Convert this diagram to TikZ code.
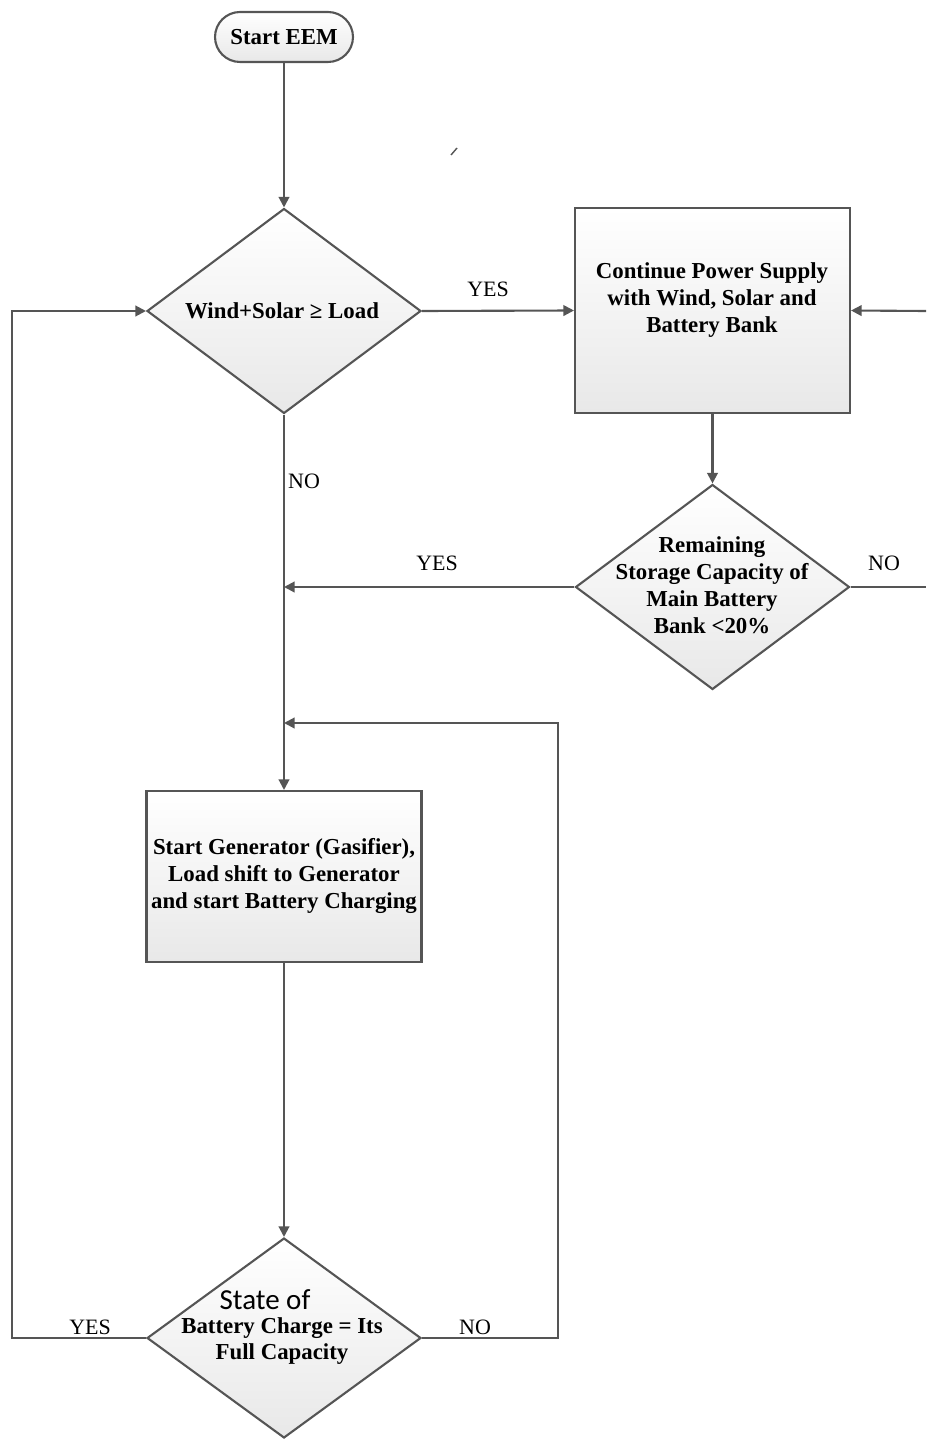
\documentclass[tikz,border=0pt]{standalone}
\usepackage{fontspec}
\setmainfont{Liberation Serif}
\newfontfamily\calibri{Carlito}
\usetikzlibrary{shapes.geometric,arrows.meta}

\definecolor{linegray}{RGB}{85,85,85}

\tikzset{
    line/.style={draw=linegray, line width=1.2pt},
    arrow/.style={line, -{Triangle[length=6pt,width=6pt]}},
    shade/.style={top color=white, bottom color=black!9},
    process/.style={line, shade, rectangle, minimum width=5.5cm, minimum height=4.1cm, inner sep=0pt},
    decision/.style={line, shade, diamond, aspect=1.34, minimum width=5.48cm, minimum height=4.1cm, inner sep=0pt},
    term/.style={line, shade, rectangle, rounded corners=0.5cm, minimum width=2.76cm, minimum height=1cm, font=\fontsize{13}{15.3}\selectfont\bfseries},
    txt/.style={align=center, inner sep=0pt, font=\fontsize{13}{15.3}\selectfont\bfseries},
    answer/.style={font=\fontsize{12.5}{15}\selectfont}
}

\begin{document}
\begin{tikzpicture}[x=0.02cm, y=-0.02cm]
    \useasboundingbox (0,0) rectangle (926,1439);

    % Start
    \node[term] (start) at (284,37) {Start EEM};

    % First check
    \node[decision] (wind) at (284,311) {};
    \node[txt] (windtxt) at (282,311) {Wind+Solar ≥ Load};

    % Supply from renewables
    \node[process] (cont) at (712.5,310.5) {};
    \node[txt] (conttxt) at (712,300) {Continue Power Supply\\with Wind, Solar and\\Battery Bank};

    % Battery check
    \node[decision] (storage) at (712.5,587) {};
    \node[txt] (storagetxt) at (712,585) {Remaining\\Storage Capacity of\\Main Battery\\Bank <20\%};

    % Generator
    \node[process, minimum height=3.42cm] (gen) at (284,876.5) {};
    \node[txt] (gentxt) at (284,876) {Start Generator (Gasifier),\\Load shift to Generator\\and start Battery Charging};

    % Full charge check
    \node[decision, minimum height=4cm] (full) at (284,1338) {};
    \node[font=\calibri\fontsize{16.5}{18}\selectfont, inner sep=0pt] (fulltop) at (265,1300) {State of};
    \node[txt] (fulltxt) at (282,1341) {Battery Charge = Its\\Full Capacity};

    % Junctions and loose ends
    \coordinate (yesjoin) at (284,587);
    \coordinate (nojoin) at (284,723);
    \coordinate (noend) at (926,587);
    \coordinate (backin) at (926,311);
    \coordinate (loopright) at (558,723);
    \coordinate (loopleft) at (12,311);

    % Connectors
    \draw[arrow] (start) -- (wind);
    \draw[arrow] (wind.east) -- (cont.west);
    \draw[arrow] (cont) -- (storage);
    \draw[arrow] (backin) -- (cont.east);
    \draw[line] (storage.east) -- (noend);
    \draw[arrow] (storage.west) -- (yesjoin);
    \draw[arrow] (wind.south) -- (gen.north);
    \draw[arrow] (gen) -- (full);
    \draw[arrow] (full.east) -| (loopright) -- (nojoin);
    \draw[arrow] (full.west) -| (loopleft) -- (wind.west);

    % Answers
    \node[answer] (yes1) at (488,289) {YES};
    \node[answer] (no1) at (304,481) {NO};
    \node[answer] (yes2) at (437,563) {YES};
    \node[answer] (no2) at (884,563) {NO};
    \node[answer] (yes3) at (90,1327) {YES};
    \node[answer] (no3) at (475,1327) {NO};

    % stray tick
    \draw[linegray, line width=0.8pt] (451,155) -- (457,148);
\end{tikzpicture}
\end{document}
